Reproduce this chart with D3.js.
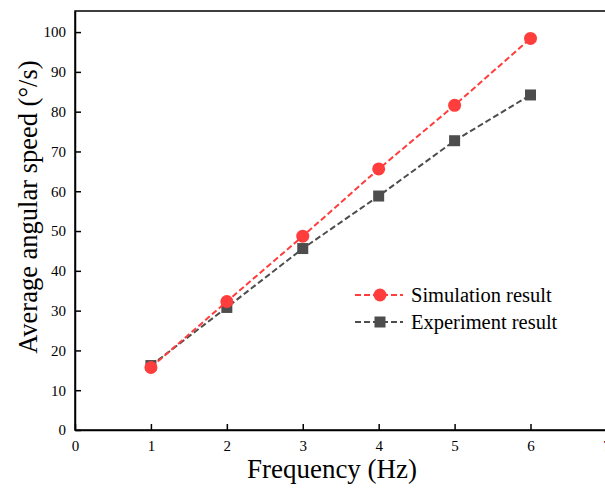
<!DOCTYPE html>
<html>
<head>
<meta charset="utf-8">
<script src="https://cdn.jsdelivr.net/npm/d3@7"></script>
<style>
  body { margin: 0; background: #fff; }
  svg text { font-family: "Liberation Serif", "Times New Roman", serif; }
</style>
</head>
<body>
<div id="chart"></div>
<script>
const freq = [1, 2, 3, 4, 5, 6];
const simulation = [15.7, 32.3, 48.7, 65.6, 81.6, 98.4];
const experiment = [16.2, 30.8, 45.6, 58.8, 72.7, 84.2];
const xTicks = [0, 1, 2, 3, 4, 5, 6, 7];
const yTicks = [0, 10, 20, 30, 40, 50, 60, 70, 80, 90, 100];
const seriesNames = ["Simulation result", "Experiment result"];

const width = 605, height = 489;
const margin = { top: 11, right: -28, bottom: 59, left: 75 };
const xMax = 7.35, yMax = 105.3;
const serif = "Liberation Serif, Times New Roman, serif";

const svg = d3.select("#chart").append("svg")
    .attr("width", width)
    .attr("height", height);

const x = d3.scaleLinear().domain([0, xMax]).range([margin.left, width - margin.right]);
const y = d3.scaleLinear().domain([0, yMax]).range([height - margin.bottom, margin.top]);

// frame
svg.append("rect")
    .attr("x", margin.left).attr("y", margin.top)
    .attr("width", x(xMax) - margin.left)
    .attr("height", y(0) - margin.top)
    .attr("fill", "none").attr("stroke", "#000").attr("stroke-width", 1.5);

// axes, ticks pointing inward
const xAxis = svg.append("g")
    .attr("transform", "translate(0," + y(0) + ")")
    .call(d3.axisBottom(x).tickValues(xTicks).tickSizeInner(-6).tickSizeOuter(0).tickPadding(10));
const yAxis = svg.append("g")
    .attr("transform", "translate(" + margin.left + ",0)")
    .call(d3.axisLeft(y).tickValues(yTicks).tickSizeInner(-6).tickSizeOuter(0).tickPadding(9));

[xAxis, yAxis].forEach((g) => {
    g.attr("font-family", serif).attr("font-size", 15);
    g.select(".domain").attr("stroke-width", 1.5);
    g.selectAll(".tick line").attr("stroke-width", 1.5);
    g.selectAll(".tick text")
        .attr("font-family", serif)
        .attr("font-size", 15)
        .attr("fill", "#000");
});

// axis titles
svg.append("text")
    .attr("x", 332).attr("y", 478)
    .attr("text-anchor", "middle")
    .attr("font-family", serif)
    .attr("font-size", 27)
    .text("Frequency (Hz)");
svg.append("text")
    .attr("transform", "translate(37," + y(56) + ") rotate(-90)")
    .attr("text-anchor", "middle")
    .attr("font-family", serif)
    .attr("font-size", 26.5)
    .text("Average angular speed (°/s)");

const line = d3.line().x((d) => x(d[0])).y((d) => y(d[1]));
const simData = freq.map((f, i) => [f, simulation[i]]);
const expData = freq.map((f, i) => [f, experiment[i]]);

const grey = "#4d4d4d", red = "#ff3d3d";

// experiment underneath
svg.append("path")
    .attr("d", line(expData))
    .attr("fill", "none").attr("stroke", grey)
    .attr("stroke-width", 2).attr("stroke-dasharray", "6,3");
svg.append("g").selectAll("rect")
    .data(expData).enter().append("rect")
    .attr("x", (d) => x(d[0]) - 5.5).attr("y", (d) => y(d[1]) - 5.5)
    .attr("width", 11).attr("height", 11)
    .attr("fill", grey);

svg.append("path")
    .attr("d", line(simData))
    .attr("fill", "none").attr("stroke", red)
    .attr("stroke-width", 2).attr("stroke-dasharray", "6,3");
svg.append("g").selectAll("circle")
    .data(simData).enter().append("circle")
    .attr("cx", (d) => x(d[0])).attr("cy", (d) => y(d[1]))
    .attr("r", 6.5)
    .attr("fill", red);

// legend
const legend = svg.append("g");
const legendY = [295, 322];
[red, grey].forEach((c, i) => {
    legend.append("line")
        .attr("x1", 355).attr("x2", 403)
        .attr("y1", legendY[i]).attr("y2", legendY[i])
        .attr("stroke", c).attr("stroke-width", 2).attr("stroke-dasharray", "6,3");
    if (i === 0) {
        legend.append("circle").attr("cx", 380).attr("cy", legendY[i]).attr("r", 6.5).attr("fill", c);
    } else {
        legend.append("rect").attr("x", 374.5).attr("y", legendY[i] - 5.5)
            .attr("width", 11).attr("height", 11).attr("fill", c);
    }
    legend.append("text")
        .attr("x", 411).attr("y", legendY[i] + 6.5)
        .attr("font-family", serif)
        .attr("font-size", 20.5)
        .text(seriesNames[i]);
});
</script>
</body>
</html>
